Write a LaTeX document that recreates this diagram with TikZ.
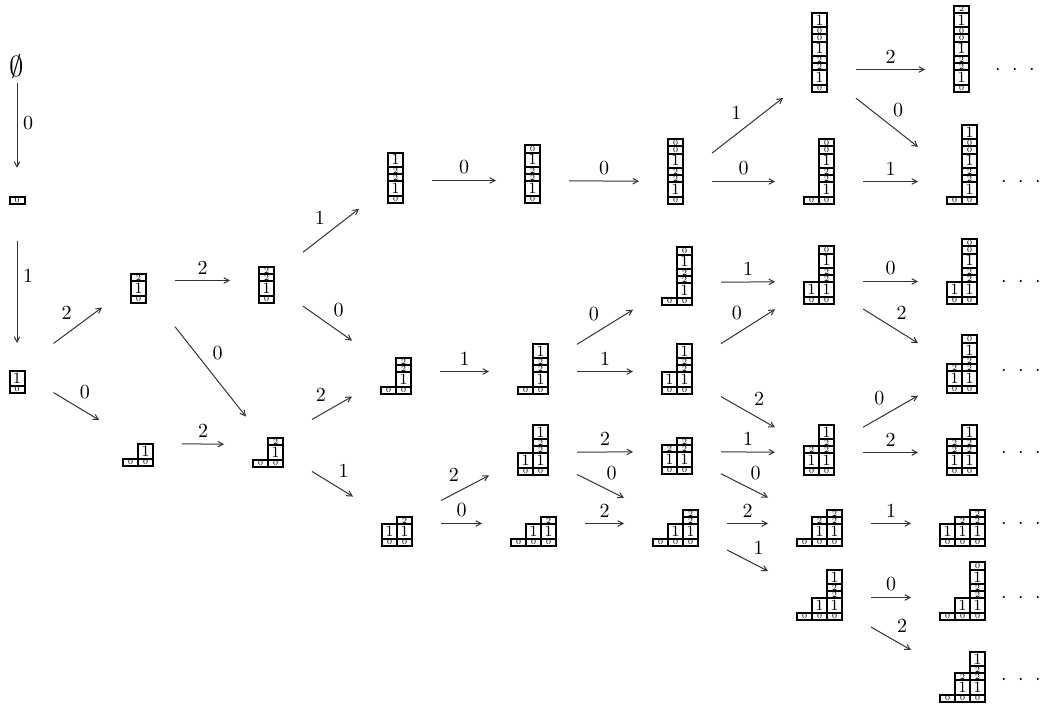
\documentclass[tikz,border=0pt]{standalone}
\usepackage{fontspec}
\usetikzlibrary{arrows.meta,calc}
\tikzset{
  cell/.style={line width=1pt},
  bigres/.style={font=\fontsize{7.8}{8}\selectfont, inner sep=0pt},
  smallres/.style={font=\fontsize{4}{4}\selectfont, inner sep=0pt},
  wallbox/.style={rectangle, draw=none, inner sep=0pt, outer sep=14.5pt},
  arr/.style={-{Straight Barb[length=2.6pt,width=2.8pt]}, line width=0.5pt, black!80},
  lab/.style={auto, inner sep=2.8pt, font=\normalsize, text=black},
  dotsnode/.style={anchor=base, inner sep=0pt},
}
\def\resl{{0,1,2,2,1,0,0,1,2}}
\def\offl{{0,7.2,21.6,28.8,36,50.4,57.6,64.8,79.2,86.4}}
% name, column index, x, y bottom, height
\newcommand\wallcol[5]{%
  \foreach \k in {1,...,#5} {
    \pgfmathtruncatemacro\wres{\resl[\k-1]}
    \pgfmathsetmacro\wbot{\offl[\k-1]}
    \pgfmathsetmacro\wtop{\offl[\k]}
    \draw[cell] (#3,#4-\wbot) rectangle (#3+15,#4-\wtop);
    \ifnum\wres=1
      \node[bigres] (#1-#2-\k) at (#3+7.5,#4-0.5*\wbot-0.5*\wtop) {1};
    \else
      \node[smallres] (#1-#2-\k) at (#3+7.5,#4-0.5*\wbot-0.5*\wtop) {\wres};
    \fi
  }%
}
% name, x, y bottom, heights, ncols, max height, pivot offset
\newcommand\wall[7]{%
  \foreach \h [count=\c from 0] in {#4} {
    \wallcol{#1}{\c}{#2+15*\c}{#3}{\h}
  }
  \pgfmathsetmacro\wup{\offl[#6]-#7}
  \pgfmathsetmacro\whalf{max(\wup,#7)}
  \node[wallbox, minimum width={7.5pt*#5}, minimum height={1pt*\whalf}] (#1) at (#2+7.5*#5,#3-#7) {};
}
\begin{document}
\begin{tikzpicture}[x=0.5pt,y=-0.5pt]
\useasboundingbox (0,0) rectangle (1042,703);

\node[inner sep=0pt, outer sep=0pt, font=\Large] (A0) at (17,66.5) {$\emptyset$};
\wall{A1}{9.5}{204}{1}{1}{1}{3.6}
\wall{A2}{9.5}{393}{2}{1}{2}{22.5}
\wall{B1}{131}{303}{3}{1}{3}{22.5}
\wall{B2}{123}{466}{1,2}{2}{2}{22.5}
\wall{C1}{259}{303}{4}{1}{4}{22.5}
\wall{C2}{253}{467}{1,3}{2}{3}{22.5}
\wall{D1}{388}{203}{5}{1}{5}{22.5}
\wall{D2}{381}{394}{1,4}{2}{4}{22.5}
\wall{D3}{382}{546}{2,3}{2}{3}{22.5}
\wall{E1}{525}{203}{6}{1}{6}{22.5}
\wall{E2}{518}{394}{1,5}{2}{5}{22.5}
\wall{E3}{518}{475}{2,5}{2}{5}{22.5}
\wall{E4}{511}{546}{1,2,3}{3}{3}{22.5}
\wall{F1}{668}{204}{7}{1}{7}{22.5}
\wall{F2}{662}{305}{1,6}{2}{6}{22.5}
\wall{F3}{662}{394}{2,5}{2}{5}{22.5}
\wall{F4}{662}{474}{3,4}{2}{4}{22.5}
\wall{F5}{653}{546}{1,2,4}{3}{4}{22.5}
\wall{G0}{812}{92}{8}{1}{8}{22.5}
\wall{G1}{804}{204}{1,7}{2}{7}{22.5}
\wall{G2}{804}{304}{2,6}{2}{6}{22.5}
\wall{G3}{804}{475}{3,5}{2}{5}{22.5}
\wall{G4}{797}{546}{1,3,4}{3}{4}{22.5}
\wall{G5}{797}{620}{1,2,5}{3}{5}{22.5}
\wall{H0}{954}{92}{9}{1}{9}{22.5}
\wall{H1}{947}{204}{1,8}{2}{8}{22.5}
\wall{H2}{947}{304}{2,7}{2}{7}{22.5}
\wall{H3}{947}{393}{3,6}{2}{6}{22.5}
\wall{H4}{947}{475}{4,5}{2}{5}{22.5}
\wall{H5}{940}{546}{2,3,4}{3}{4}{22.5}
\wall{H6}{940}{620}{1,2,6}{3}{6}{22.5}
\wall{H7}{940}{702}{1,3,5}{3}{5}{22.5}

\foreach \n/\xx/\yy in {H0/1015/69.5, H1/1021/181.5, H2/1021/281.5, H3/1021/370.5,
  H4/1021/452.5, H5/1021/523.5, H6/1021/597.5, H7/1021/679.5}
  \node[dotsnode] (\n-dots) at (\xx,\yy+5) {$\cdot\hspace{3.5pt}\cdot\hspace{3.5pt}\cdot$};

\draw[arr, shorten <=2.5pt] (A0) -- node[lab] {0} (A1);
\draw[arr, shorten <=4pt, shorten >=-12pt] (A1) -- node[lab] {1} (A2);
\draw[arr] (A2) -- node[lab] {2} (B1);
\draw[arr, shorten >=-3pt] (A2) -- node[lab] {0} (B2);
\draw[arr] (B1) -- node[lab] {2} (C1);
\draw[arr, shorten >=-15pt] (B1) -- node[lab, pos=0.6] {0} (C2);
\draw[arr] (B2) -- node[lab] {2} (C2);
\draw[arr] (C1) -- node[lab] {1} (D1);
\draw[arr] (C1) -- node[lab] {0} (D2);
\draw[arr] (C2) -- node[lab] {2} (D2);
\draw[arr] (C2) -- node[lab] {1} (D3);
\draw[arr] (D1) -- node[lab] {0} (E1);
\draw[arr] (D2) -- node[lab] {1} (E2);
\draw[arr] (D3) -- node[lab] {2} (E3);
\draw[arr] (D3) -- node[lab] {0} (E4);
\draw[arr] (E1) -- node[lab] {0} (F1);
\draw[arr] (E2) -- node[lab] {0} (F2);
\draw[arr] (E2) -- node[lab] {1} (F3);
\draw[arr] (E3) -- node[lab] {2} (F4);
\draw[arr] (E3) -- node[lab] {0} (F5);
\draw[arr] (E4) -- node[lab] {2} (F5);
\draw[arr] (F1) -- node[lab] {1} (G0);
\draw[arr] (F1) -- node[lab] {0} (G1);
\draw[arr] (F2) -- node[lab] {1} (G2);
\draw[arr] (F3) -- node[lab] {0} (G2);
\draw[arr] (F3) -- node[lab] {2} (G3);
\draw[arr] (F4) -- node[lab] {1} (G3);
\draw[arr] (F4) -- node[lab] {0} (G4);
\draw[arr] (F5) -- node[lab] {2} (G4);
\draw[arr] (F5) -- node[lab] {1} (G5);
\draw[arr] (G0) -- node[lab] {2} (H0);
\draw[arr] (G0) -- node[lab] {0} (H1);
\draw[arr] (G1) -- node[lab] {1} (H1);
\draw[arr] (G2) -- node[lab] {0} (H2);
\draw[arr] (G2) -- node[lab] {2} (H3);
\draw[arr] (G3) -- node[lab] {0} (H3);
\draw[arr] (G3) -- node[lab] {2} (H4);
\draw[arr] (G4) -- node[lab] {1} (H5);
\draw[arr] (G5) -- node[lab] {0} (H6);
\draw[arr] (G5) -- node[lab] {2} (H7);
\end{tikzpicture}
\end{document}
